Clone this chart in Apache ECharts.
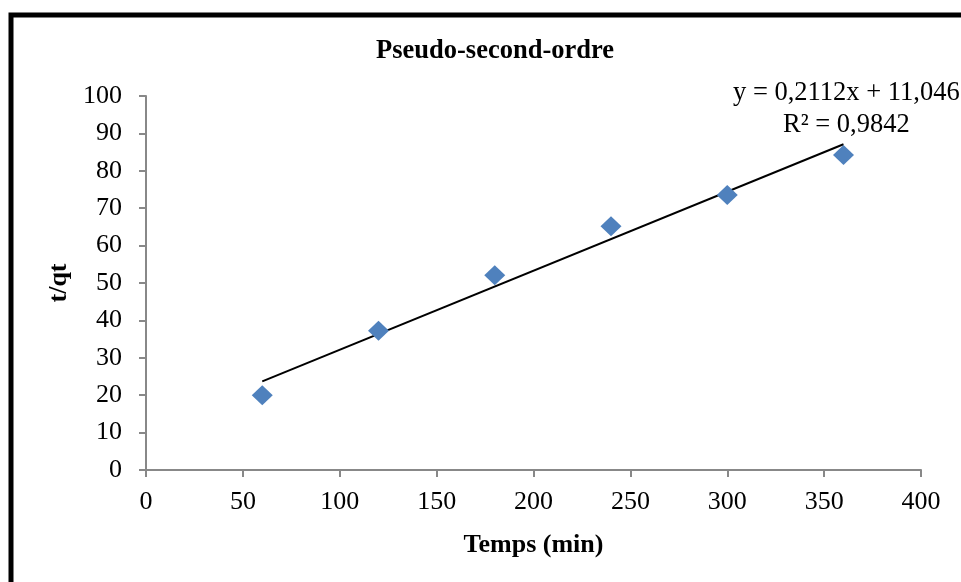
<!DOCTYPE html>
<html>
<head>
<meta charset="utf-8">
<script src="https://cdn.jsdelivr.net/npm/echarts@6/dist/echarts.min.js"></script>
<style>
html, body { margin: 0; padding: 0; background: #fff; }
#main { width: 961px; height: 582px; }
</style>
</head>
<body>
<div id="main"></div>
<script>
// temps (min) et t/qt
var tempsMin = [60, 120, 180, 240, 300, 360];
var tSurQt = [20.0, 37.2, 52.1, 65.2, 73.5, 84.2];
// extrémités de la courbe de tendance
var trendX = [60, 360];
var trendY = [23.7, 87.1];
var equation = "y = 0,2112x + 11,046";
var r2 = "R² = 0,9842";

var pts = [];
for (var i = 0; i < tempsMin.length; i++) {
    pts.push([tempsMin[i], tSurQt[i]]);
}
var trend = [];
for (var j = 0; j < trendX.length; j++) {
    trend.push([trendX[j], trendY[j]]);
}

var font = "Liberation Serif";
var myChart = echarts.init(document.getElementById("main"));
myChart.setOption({
    animation: false,
    backgroundColor: "#fff",
    title: {
        text: "Pseudo-second-ordre",
        left: 490, top: 33, textAlign: "center",
        textStyle: { fontFamily: font, fontSize: 26.5, fontWeight: "bold", color: "#000" }
    },
    grid: { left: 146, right: 40, top: 96, bottom: 112 },
    xAxis: {
        type: "value", min: 0, max: 400, interval: 50,
        name: "Temps (min)", nameLocation: "middle", nameGap: 62,
        nameTextStyle: { fontFamily: font, fontSize: 26, fontWeight: "bold", color: "#000" },
        axisLine: { lineStyle: { color: "#888", width: 2 } },
        axisTick: { show: true, length: 7, lineStyle: { color: "#888", width: 2 } },
        axisLabel: { fontFamily: font, fontSize: 26, color: "#000", margin: 19 },
        splitLine: { show: false }
    },
    yAxis: {
        type: "value", min: 0, max: 100, interval: 10,
        name: "t/qt", nameLocation: "middle", nameGap: 72,
        nameTextStyle: { fontFamily: font, fontSize: 26, fontWeight: "bold", color: "#000" },
        axisLine: { show: true, lineStyle: { color: "#888", width: 2 } },
        axisTick: { show: true, length: 7, lineStyle: { color: "#888", width: 2 } },
        axisLabel: { fontFamily: font, fontSize: 26, color: "#000", margin: 24 },
        splitLine: { show: false }
    },
    series: [{
        type: "line",
        data: trend,
        symbol: "none",
        lineStyle: { color: "#000", width: 2 },
        z: 2
    }, {
        type: "scatter",
        data: pts,
        symbol: "diamond",
        symbolSize: [21, 20],
        itemStyle: { color: "#4F81BD", opacity: 1 },
        z: 3
    }],
    graphic: [{
        type: "rect",
        shape: { x: 11, y: 15, width: 1100, height: 800 },
        style: { fill: "none", stroke: "#000", lineWidth: 5 },
        silent: true
    }, {
        type: "text", left: 733, top: 80,
        style: { text: equation, fontFamily: font, fontSize: 26.5, fill: "#000" }
    }, {
        type: "text", left: 783, top: 112,
        style: { text: r2, fontFamily: font, fontSize: 26.5, fill: "#000" }
    }]
});
</script>
</body>
</html>
